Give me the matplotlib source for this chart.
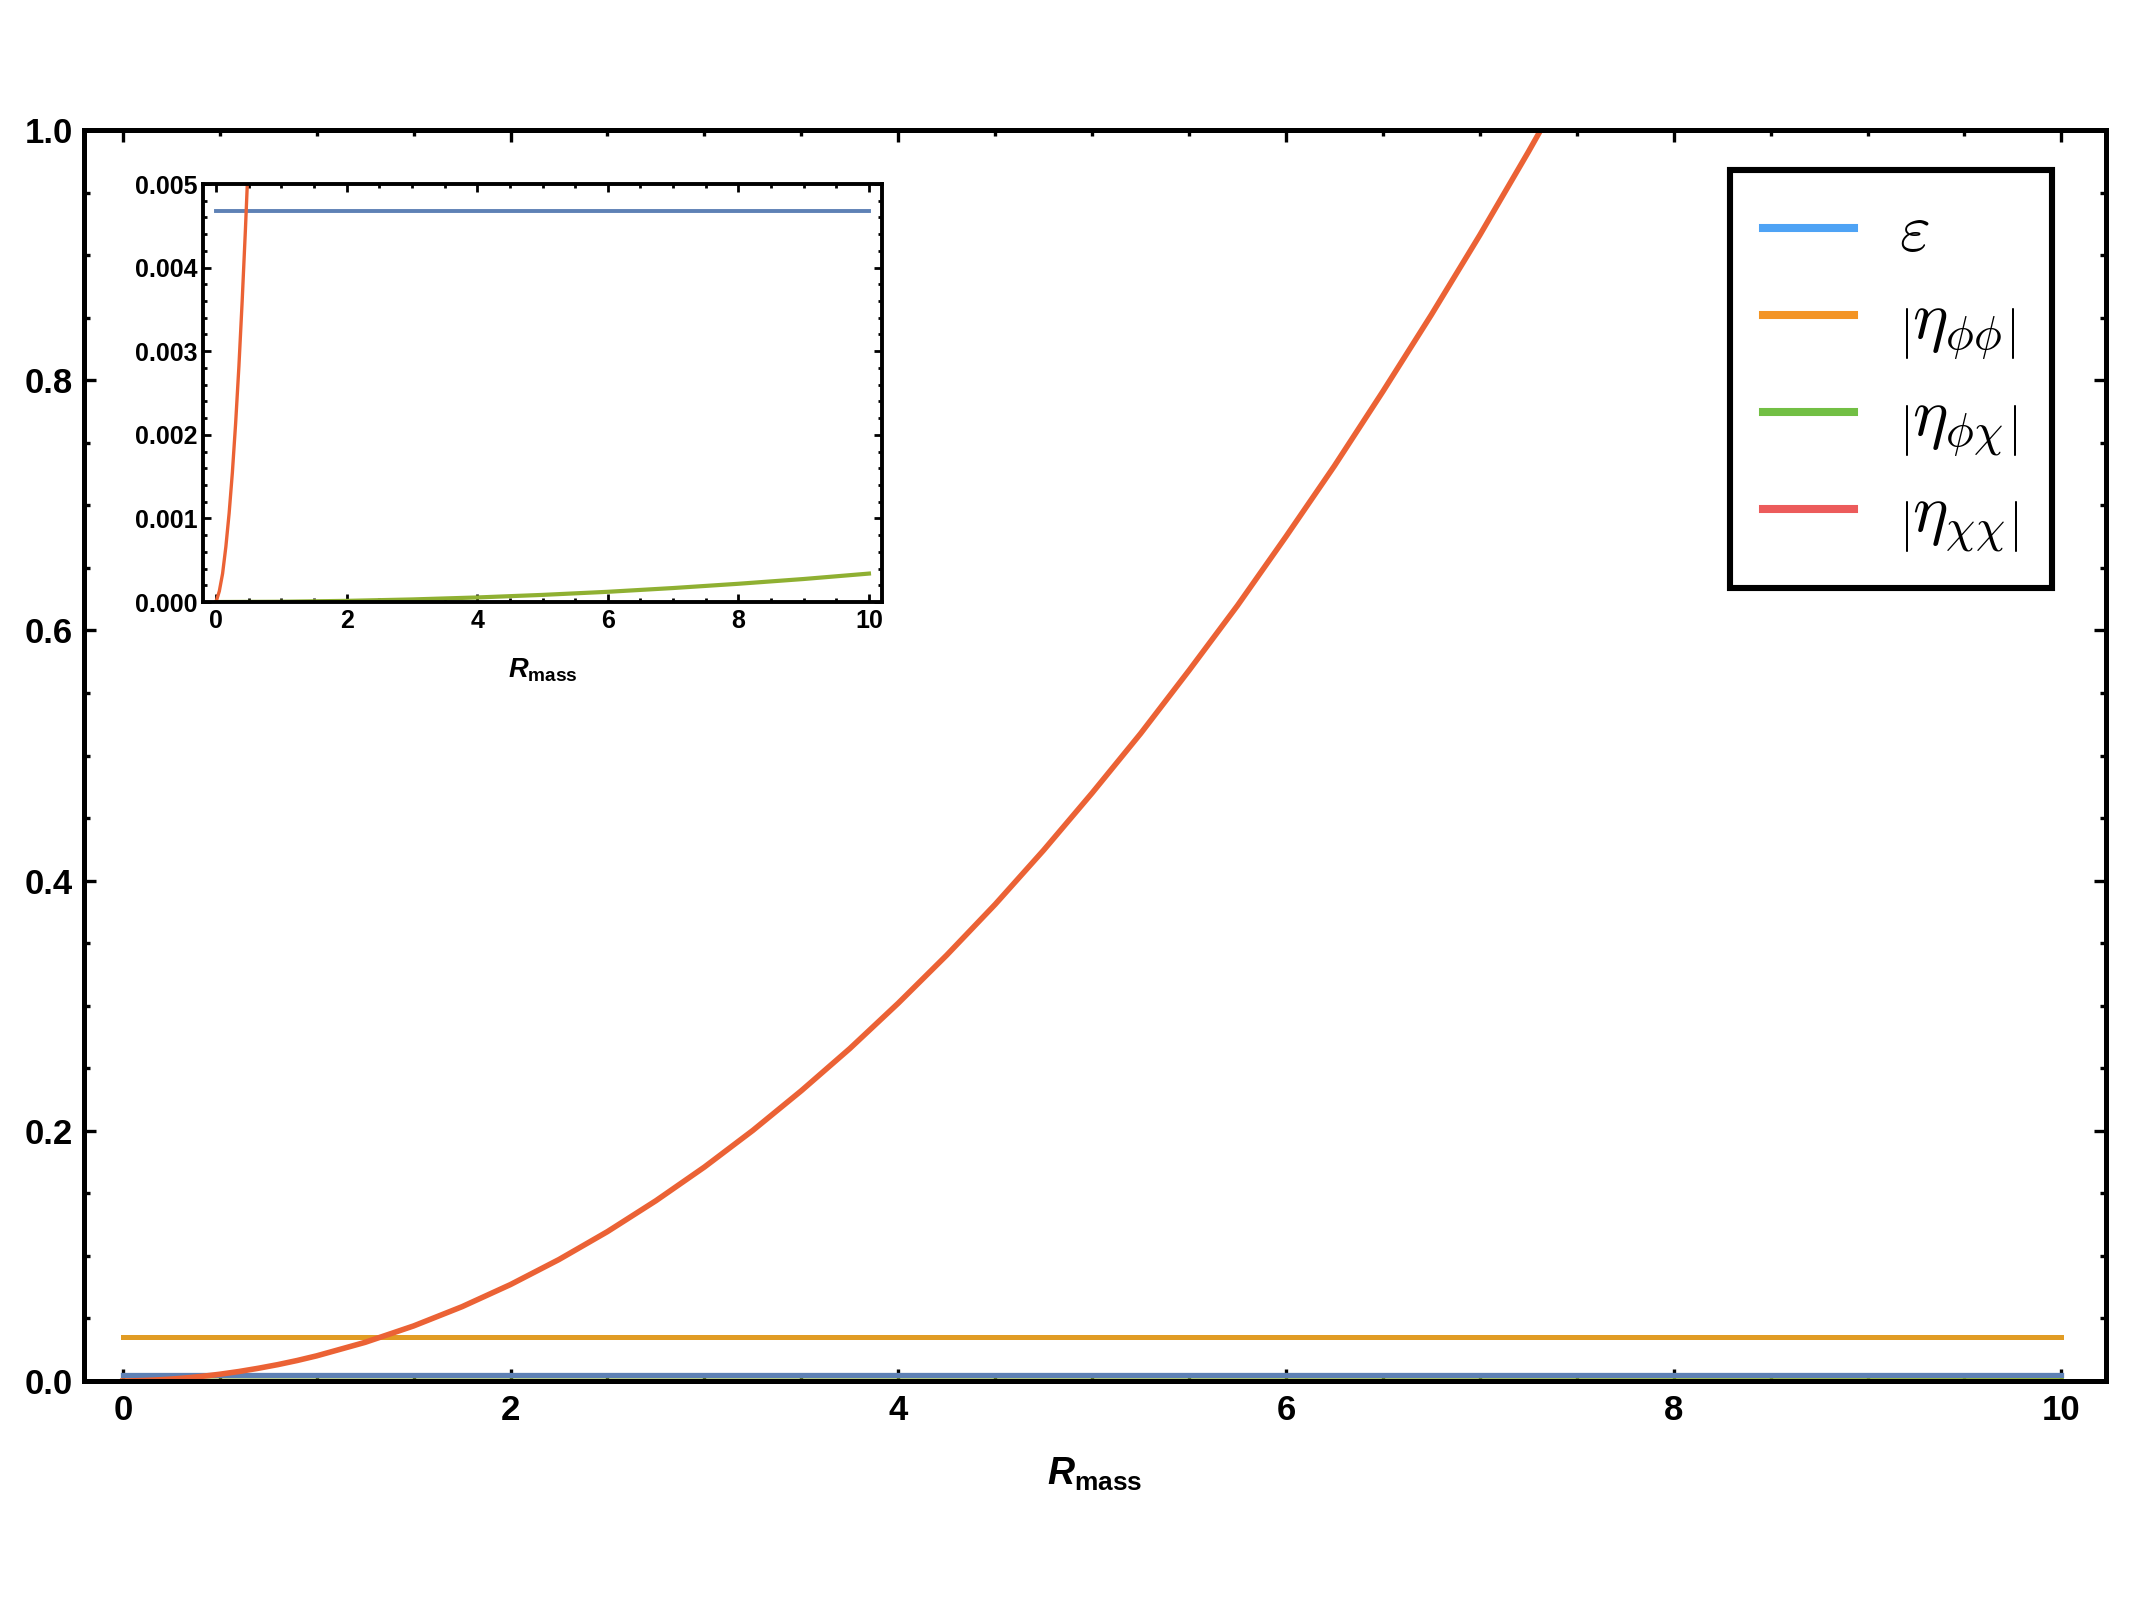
import matplotlib
matplotlib.use('Agg')
import matplotlib.pyplot as plt
from matplotlib.lines import Line2D
from matplotlib.ticker import MultipleLocator, FormatStrFormatter

# values
x_const = [0, 10]
eps = [0.00468, 0.00468]          # epsilon
eta_pp = [0.0348, 0.0348]         # |eta_phiphi|

x_pc = [0, 1, 2, 3, 4, 5, 6, 7, 8, 9, 10]
eta_pc = [0.0, 0.0000034, 0.0000136, 0.0000306, 0.0000544, 0.000085,
          0.000122, 0.000167, 0.000218, 0.000275, 0.00034]

x_cc = [0, 0.05, 0.1, 0.15, 0.2, 0.25, 0.3, 0.35, 0.4, 0.45, 0.5, 0.6, 0.7,
        0.8, 0.9, 1.0, 1.25, 1.5, 1.75, 2.0, 2.25, 2.5, 2.75, 3.0, 3.25,
        3.5, 3.75, 4.0, 4.25, 4.5, 4.75, 5.0, 5.25, 5.5, 5.75, 6.0, 6.25,
        6.5, 6.75, 7.0, 7.25, 7.5]
eta_cc = [0.0, 0.00013, 0.00034, 0.00066, 0.00106, 0.00155, 0.00214,
          0.00282, 0.0036, 0.00446, 0.0054, 0.0076, 0.0102, 0.0131, 0.0164,
          0.0201, 0.0309, 0.044, 0.0594, 0.0771, 0.0971, 0.1194, 0.1441,
          0.171, 0.2003, 0.232, 0.2657, 0.302, 0.3404, 0.381, 0.4243, 0.47,
          0.5175, 0.568, 0.6199, 0.675, 0.7315, 0.791, 0.8523, 0.916,
          0.9824, 1.051]

labels = [r'$\varepsilon$', r'$\left|\eta_{\phi\phi}\right|$',
          r'$\left|\eta_{\phi\chi}\right|$', r'$\left|\eta_{\chi\chi}\right|$']
line_colors = ['#5E81B5', '#E19C24', '#8FB032', '#EB6235']
legend_colors = ['#4EA3F5', '#F39424', '#72BF44', '#EC5B5B']

plt.rcParams['font.family'] = ['Liberation Sans', 'DejaVu Sans']
plt.rcParams['font.weight'] = 'bold'
plt.rcParams['mathtext.fontset'] = 'custom'
plt.rcParams['mathtext.it'] = 'Liberation Sans:italic:bold'
plt.rcParams['mathtext.rm'] = 'Liberation Sans:bold'
plt.rcParams['mathtext.bf'] = 'Liberation Sans:bold'

W, H = 2134, 1600
fig = plt.figure(figsize=(W / 200, H / 200), dpi=200)


def frame_axes(a, lw, maj, mnr, tw, size, pad_x, pad_y):
    for s in a.spines.values():
        s.set_linewidth(lw)
    a.tick_params(which='both', direction='in', top=True, right=True,
                  width=tw, labelsize=size)
    a.tick_params(which='major', length=maj)
    a.tick_params(which='minor', length=mnr)
    a.tick_params(axis='x', pad=pad_x)
    a.tick_params(axis='y', pad=pad_y)


# main axes
ax = fig.add_axes([84 / W, 1 - 1381 / H, (2106 - 84) / W, (1381 - 130) / H])
ax.plot(x_const, eps, color=line_colors[0], lw=1.9)
ax.plot(x_const, eta_pp, color=line_colors[1], lw=1.8)
ax.plot(x_pc, eta_pc, color=line_colors[2], lw=1.8)
ax.plot(x_cc, eta_cc, color=line_colors[3], lw=2.0)
ax.set_xlim(-0.2, 10.23)
ax.set_ylim(0, 1.0)
ax.xaxis.set_major_locator(MultipleLocator(2))
ax.xaxis.set_minor_locator(MultipleLocator(0.5))
ax.yaxis.set_major_locator(MultipleLocator(0.2))
ax.yaxis.set_minor_locator(MultipleLocator(0.05))
ax.yaxis.set_major_formatter(FormatStrFormatter('%.1f'))
frame_axes(ax, 1.8, 4.3, 2.2, 1.2, 12.5, 4.5, 4.0)
ax.set_xlabel(r'$R_{\mathrm{mass}}$', fontsize=13.5)
ax.xaxis.set_label_coords(0.5, (1381 - 1474) / 1251)
ax.xaxis.label.set_va('center')

handles = [Line2D([], [], color=c, lw=2.9) for c in legend_colors]
leg = ax.legend(handles, labels, loc='upper right',
                bbox_to_anchor=(2052 / W, 1 - 170 / H),
                bbox_transform=fig.transFigure, borderaxespad=0,
                fancybox=False, framealpha=1, edgecolor='black',
                prop={'size': 24, 'math_fontfamily': 'cm'},
                handlelength=1.36, handletextpad=0.68, labelspacing=0.38,
                borderpad=0.5)
leg.get_frame().set_linewidth(2.2)

# inset axes
ax_in = fig.add_axes([203 / W, 1 - 602 / H, (882 - 203) / W, (602 - 184) / H])
ax_in.plot(x_const, eps, color=line_colors[0], lw=1.4)
ax_in.plot(x_const, eta_pp, color=line_colors[1], lw=1.4)
ax_in.plot(x_pc, eta_pc, color=line_colors[2], lw=1.5)
ax_in.plot(x_cc, eta_cc, color=line_colors[3], lw=1.2)
ax_in.set_xlim(-0.2, 10.2)
ax_in.set_ylim(0, 0.005)
ax_in.xaxis.set_major_locator(MultipleLocator(2))
ax_in.xaxis.set_minor_locator(MultipleLocator(0.5))
ax_in.yaxis.set_major_locator(MultipleLocator(0.001))
ax_in.yaxis.set_minor_locator(MultipleLocator(0.0002))
ax_in.yaxis.set_major_formatter(FormatStrFormatter('%.3f'))
frame_axes(ax_in, 1.4, 3.0, 1.6, 1.0, 9, 2.5, 2.0)
ax_in.set_xlabel(r'$R_{\mathrm{mass}}$', fontsize=9.8)
ax_in.xaxis.set_label_coords(0.5, (602 - 670) / 418)
ax_in.xaxis.label.set_va('center')

fig.savefig('out.png', dpi=200)
